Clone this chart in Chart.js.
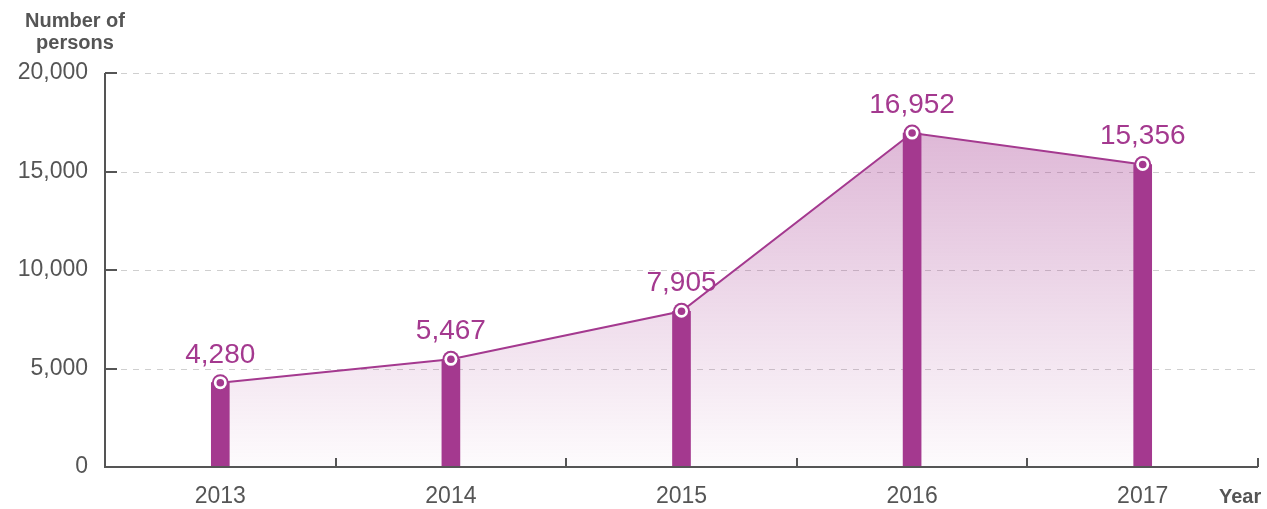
<!DOCTYPE html>
<html>
<head>
<meta charset="utf-8">
<script src="https://cdn.jsdelivr.net/npm/chart.js@4/dist/chart.umd.min.js"></script>
<style>
html,body{margin:0;padding:0;background:#fff;}
#wrap{width:1267px;height:509px;position:relative;}
</style>
</head>
<body>
<div id="wrap"><canvas id="c"></canvas></div>
<script>
const years = ['2013', '2014', '2015', '2016', '2017'];
const persons = [4280, 5467, 7905, 16952, 15356];
const yTicks = [0, 5000, 10000, 15000, 20000];
const yTitle = ['Number of', 'persons'];
const xTitle = 'Year';

const PURPLE = '#a4398f';
const GREY = '#555555';
const FONT = '"Liberation Sans", Arial, Helvetica, sans-serif';

const fmt = v => v.toLocaleString('en-US');

const decor = {
  id: 'decor',
  beforeDatasetsDraw(chart) {
    const ctx = chart.ctx, a = chart.chartArea, y = chart.scales.y;
    ctx.save();
    ctx.strokeStyle = '#cfcfcf';
    ctx.lineWidth = 1;
    ctx.setLineDash([6, 6]);
    yTicks.forEach(v => {
      if (v === 0) return;
      const py = Math.round(y.getPixelForValue(v)) + 0.5;
      ctx.beginPath();
      ctx.moveTo(a.left + 16, py);
      ctx.lineTo(a.right, py);
      ctx.stroke();
    });
    ctx.restore();
  },
  afterDatasetsDraw(chart) {
    const ctx = chart.ctx, a = chart.chartArea, y = chart.scales.y, x = chart.scales.x;
    ctx.save();
    ctx.strokeStyle = GREY;
    ctx.lineWidth = 2;
    ctx.beginPath();
    ctx.moveTo(a.left, a.top);
    ctx.lineTo(a.left, a.bottom);
    ctx.lineTo(a.right, a.bottom);
    ctx.stroke();
    yTicks.forEach(v => {
      if (v === 0) return;
      const py = Math.round(y.getPixelForValue(v));
      ctx.beginPath();
      ctx.moveTo(a.left, py);
      ctx.lineTo(a.left + 12, py);
      ctx.stroke();
    });
    for (let i = 0; i < years.length; i++) {
      const px = Math.round((x.getPixelForValue(i) + (i + 1 < years.length ? x.getPixelForValue(i + 1) : 2 * x.getPixelForValue(i) - x.getPixelForValue(i - 1))) / 2);
      ctx.beginPath();
      ctx.moveTo(px, a.bottom);
      ctx.lineTo(px, a.bottom - 9);
      ctx.stroke();
    }
    const meta = chart.getDatasetMeta(2);
    meta.data.forEach((pt, i) => {
      ctx.fillStyle = PURPLE;
      ctx.beginPath(); ctx.arc(pt.x, pt.y, 8.5, 0, Math.PI * 2); ctx.fill();
      ctx.fillStyle = '#ffffff';
      ctx.beginPath(); ctx.arc(pt.x, pt.y, 6.5, 0, Math.PI * 2); ctx.fill();
      ctx.fillStyle = PURPLE;
      ctx.beginPath(); ctx.arc(pt.x, pt.y, 3.8, 0, Math.PI * 2); ctx.fill();
      ctx.font = '28px ' + FONT;
      ctx.textAlign = 'center';
      ctx.textBaseline = 'alphabetic';
      ctx.fillText(fmt(persons[i]), pt.x, pt.y - 20);
    });
    ctx.fillStyle = GREY;
    ctx.font = 'bold 20px ' + FONT;
    ctx.textAlign = 'center';
    ctx.fillText(yTitle[0], 75, 27);
    ctx.fillText(yTitle[1], 75, 49);
    ctx.textAlign = 'left';
    ctx.font = 'bold 20px ' + FONT;
    ctx.fillText(xTitle, 1219, 503);
    ctx.restore();
  }
};

new Chart(document.getElementById('c'), {
  type: 'bar',
  data: {
    labels: years,
    datasets: [
      {
        type: 'line',
        data: persons,
        fill: 'origin',
        borderWidth: 0,
        pointRadius: 0,
        tension: 0,
        order: 3,
        backgroundColor(ctx) {
          const chart = ctx.chart, a = chart.chartArea;
          if (!a) return 'rgba(164,57,143,0.2)';
          const g = chart.ctx.createLinearGradient(0, a.top, 0, a.bottom);
          g.addColorStop(0, 'rgba(164,57,143,0.42)');
          g.addColorStop(1, 'rgba(164,57,143,0.02)');
          return g;
        }
      },
      {
        type: 'bar',
        data: persons,
        backgroundColor: PURPLE,
        barThickness: 18,
        order: 2
      },
      {
        type: 'line',
        data: persons,
        fill: false,
        borderColor: PURPLE,
        borderWidth: 2,
        pointRadius: 0,
        tension: 0,
        order: 1
      }
    ]
  },
  options: {
    responsive: true,
    maintainAspectRatio: false,
    animation: false,
    layout: { padding: { top: 73, right: 9, left: 0, bottom: 0 } },
    plugins: { legend: { display: false }, tooltip: { enabled: false } },
    scales: {
      x: {
        offset: true,
        grid: { display: false, drawTicks: false },
        border: { display: false },
        ticks: { color: GREY, font: { size: 23, family: FONT }, padding: 16 },
        afterFit(s) { s.height = 42; }
      },
      y: {
        min: 0, max: 20000,
        afterBuildTicks(s) { s.ticks = yTicks.map(v => ({ value: v })); },
        grid: { display: false, drawTicks: false },
        border: { display: false },
        ticks: { color: GREY, font: { size: 23, family: FONT }, padding: 17, callback: v => fmt(v) },
        afterFit(s) { s.width = 105; }
      }
    }
  },
  plugins: [decor]
});
</script>
</body>
</html>
